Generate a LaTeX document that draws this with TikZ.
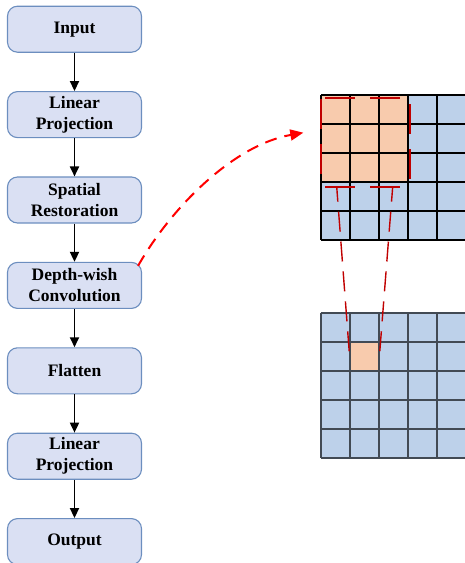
\documentclass[tikz,border=0pt]{standalone}
\usepackage{fontspec}
\setmainfont{Liberation Serif}
\usetikzlibrary{arrows.meta,calc}
\definecolor{boxfill}{HTML}{DAE0F3}
\definecolor{boxline}{HTML}{6C8EBF}
\definecolor{cellblue}{HTML}{BDD1EA}
\definecolor{cellorange}{HTML}{F8CBAD}
\definecolor{kernelred}{HTML}{C00000}
\definecolor{gridgray}{HTML}{424A54}

\begin{document}
\begin{tikzpicture}[x=1pt,y=-1pt,
  stage/.style={draw=boxline, fill=boxfill, line width=1.1pt, rounded corners=10pt,
    minimum width=134pt, minimum height=46pt, inner sep=0pt, align=center,
    font=\fontsize{17.5}{21}\selectfont\bfseries},
  flow/.style={-{Triangle[length=10pt,width=9pt]}, line width=1.8pt},
  link/.style={-{Triangle[length=13pt,width=11pt]}, red, line width=2pt,
    dash pattern=on 12pt off 8pt},
  kernel/.style={kernelred, line width=2.2pt, dash pattern=on 30pt off 15pt},
  proj/.style={kernelred, line width=1.4pt, dash pattern=on 20pt off 10pt, dash phase=5pt}]
\useasboundingbox (0,0) rectangle (465,563);

% processing pipeline
\node[stage] (in)  at (74.5,29.2)  {Input};
\node[stage] (lp1) at (74.5,114.6) {Linear\\Projection};
\node[stage] (sr)  at (74.5,200.0) {Spatial\\Restoration};
\node[stage] (dw)  at (74.5,285.4) {Depth-wish\\Convolution};
\node[stage] (fl)  at (74.5,370.8) {Flatten};
\node[stage] (lp2) at (74.5,456.2) {Linear\\Projection};
\node[stage] (out) at (74.5,541.6) {Output};

\draw[flow] (in) -- (lp1);
\draw[flow] (lp1) -- (sr);
\draw[flow] (sr) -- (dw);
\draw[flow] (dw) -- (fl);
\draw[flow] (fl) -- (lp2);
\draw[flow] (lp2) -- (out);

% input feature map with 3x3 kernel window
\fill[cellblue] (321,95.3) rectangle (466,240.3);
\fill[cellorange] (321,95.3) rectangle (408,182.3);
\foreach \i in {0,...,5} {
  \draw[black, line width=1.7pt] (321+29*\i,95.3) -- (321+29*\i,240.3);
  \draw[black, line width=1.7pt] (321,95.3+29*\i) -- (466,95.3+29*\i);
}

% output feature map
\fill[cellblue] (320.7,312.7) rectangle (465.7,457.7);
\fill[cellorange] (349.7,341.7) rectangle (378.7,370.7);
\foreach \i in {0,...,5} {
  \draw[gridgray, line width=2pt] (320.7+29*\i,312.7) -- (320.7+29*\i,457.7);
  \draw[gridgray, line width=2pt] (320.7,312.7+29*\i) -- (465.7,312.7+29*\i);
}

% kernel window outline
\coordinate (k1) at (321,98.3);
\coordinate (k2) at (410,98.3);
\coordinate (k3) at (410,186.7);
\coordinate (k4) at (321,186.7);
\draw[kernel] ($(k1)+(4,0)$) -- (k2);
\draw[kernel] ($(k1)+(0,0.7)$) -- (k4);
\draw[kernel] ($(k2)+(0,5.7)$) -- (k3);
\draw[kernel] ($(k4)+(4,0)$) -- (k3);

% projection of the window onto one output cell
\coordinate (pl) at (336.7,186.7);
\coordinate (pr) at (392.7,186.7);
\coordinate (ql) at (349.5,355);
\coordinate (qr) at (379.5,355);
\draw[proj] (pl) -- (ql);
\draw[proj] (pr) -- (qr);

% link from the convolution stage to the kernel
\coordinate (dwc) at ($(dw.north east)+(-4,4)$);
\coordinate (tgt) at (303.3,132.7);
\draw[link] (dwc) .. controls (172.3,206) and (234.3,144.9) .. (tgt);
\end{tikzpicture}
\end{document}
